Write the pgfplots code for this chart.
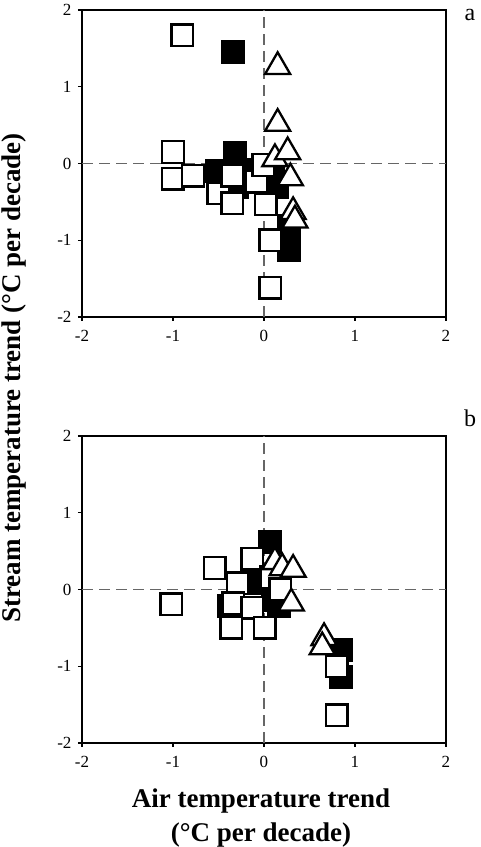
\documentclass[border=0pt]{standalone}
\usepackage{fontspec}
\setmainfont{Liberation Serif}
\usepackage{pgfplots}
\pgfplotsset{compat=1.18}

\pgfplotsset{
  trendpanel/.style={
    at={(82pt,#1)}, anchor=south west,
    scale only axis, width=364pt, height=307pt,
    xmin=-2, xmax=2, ymin=-2, ymax=2,
    xtick={-2,-1,0,1,2}, ytick={-2,-1,0,1,2},
    tick align=outside, xtick pos=bottom, ytick pos=left,
    major tick length=4pt,
    axis line style={line width=1.6pt},
    every tick/.style={black, line width=1.2pt},
    /pgf/number format/assume math mode=true,
    tick label style={font=\fontsize{17}{19}\selectfont},
    xticklabel style={yshift=-6pt},
    yticklabel style={xshift=-3pt},
    clip=false,
  },
  openmark/.style={only marks, mark=square*, mark size=10.8pt,
    mark options={draw=black, fill=white, line width=2.5pt}},
  fullmark/.style={only marks, mark=square*, mark size=10.8pt,
    mark options={draw=black, fill=black, line width=2.5pt}},
  trimark/.style={only marks, mark=triangle*, mark size=14.5pt,
    mark options={draw=black, fill=white, line width=2.3pt}},
  zeroline/.style={color=black!60, line width=1.1pt, dash pattern=on 11pt off 6pt},
}

\begin{document}
\begin{tikzpicture}[x=1pt,y=1pt]
\useasboundingbox (0,0) rectangle (480,847);

% panel a
\begin{axis}[trendpanel=530pt]
\addplot[zeroline] coordinates {(-2,0) (2,0)};
\addplot[zeroline] coordinates {(0,-2) (0,2)};
\addplot[fullmark] coordinates {
(-0.34,1.45) (-0.32,0.13) (-0.52,-0.10) (-0.30,-0.30) (-0.18,-0.08)
(0.10,-0.17) (0.14,-0.30) (0.27,-0.82) (0.27,-1.13)
};
\addplot[openmark] coordinates {
(-0.90,1.67) (-1.00,0.15) (-1.00,-0.20) (-0.78,-0.16) (-0.50,-0.39)
(-0.35,-0.52) (-0.35,-0.16) (-0.08,-0.24) (0.02,-0.53) (-0.01,-0.02)
(0.07,-1.00) (0.07,-1.62)
};
\addplot[trimark] coordinates {
(0.12,0.06) (0.15,1.26) (0.15,0.52) (0.26,0.15) (0.29,-0.19)
(0.32,-0.63) (0.34,-0.74)
};
\end{axis}

% panel b
\begin{axis}[trendpanel=104pt]
\addplot[zeroline] coordinates {(-2,0) (2,0)};
\addplot[zeroline] coordinates {(0,-2) (0,2)};
\addplot[fullmark] coordinates {
(0.07,0.62) (0.05,0.12) (-0.08,0.08) (-0.38,-0.22) (0.10,-0.14)
(0.16,-0.22) (0.85,-0.79) (0.85,-1.14)
};
\addplot[openmark] coordinates {
(-1.02,-0.19) (-0.54,0.28) (-0.13,0.40) (-0.29,0.08) (-0.34,-0.18)
(-0.13,-0.24) (-0.36,-0.50) (0.01,-0.50) (0.08,0.16) (0.18,0.00)
(0.80,-1.00) (0.80,-1.64)
};
\addplot[trimark] coordinates {
(0.12,0.36) (0.20,0.28) (0.32,0.26) (0.30,-0.18)
(0.66,-0.63) (0.64,-0.75)
};
\end{axis}

\node[rotate=90, font=\bfseries\fontsize{27}{30}\selectfont] at (14,469)
  {Stream temperature trend (°C per decade)};
\node[align=center, font=\bfseries\fontsize{27}{34}\selectfont] at (261,29)
  {Air temperature trend\\(°C per decade)};
\node[font=\fontsize{24}{26}\selectfont] at (470,832) {a};
\node[font=\fontsize{24}{26}\selectfont] at (470,429) {b};
\end{tikzpicture}
\end{document}
